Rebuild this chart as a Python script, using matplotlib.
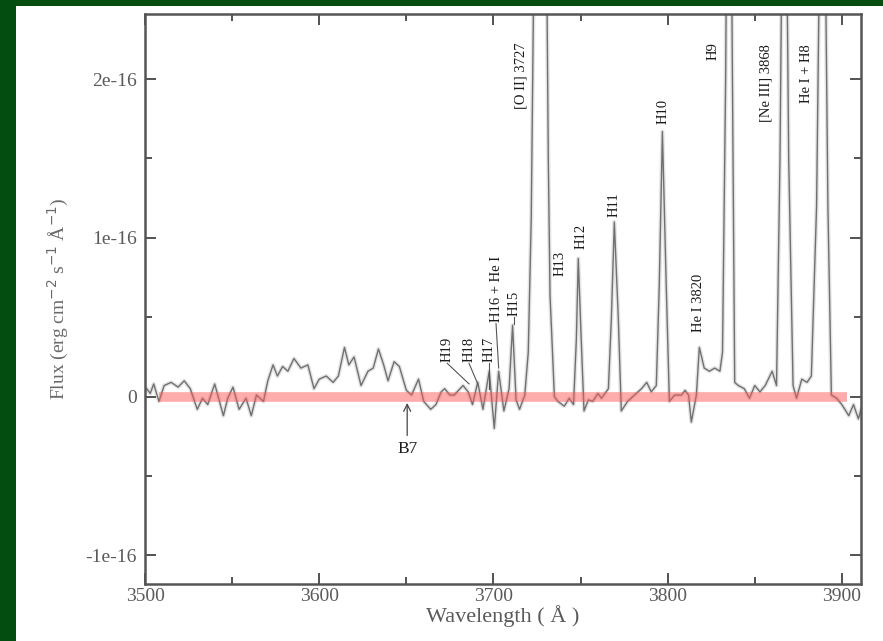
import numpy as np
import matplotlib
matplotlib.use("Agg")
import matplotlib.pyplot as plt
from matplotlib.patches import Rectangle
from matplotlib.ticker import FixedLocator, MultipleLocator

# Spectrum (flux in units of 1e-16 erg/cm2/s/A)
wave = [3501, 3503, 3505, 3508, 3511, 3515, 3519, 3522.5, 3526, 3530, 3533, 3536,
        3540, 3545, 3547.5, 3550.5, 3554, 3558, 3561, 3564, 3568, 3570.5, 3573.5,
        3576, 3579, 3582, 3585.5, 3589.5, 3593.5, 3597, 3600, 3604, 3608, 3611,
        3614.5, 3617, 3620, 3624, 3628, 3631, 3634, 3637, 3639.5, 3643, 3646, 3650,
        3653, 3657, 3660, 3664, 3667, 3670, 3672, 3675, 3677.5, 3680, 3682.6, 3685.5,
        3688, 3691, 3694, 3697.6, 3700.5, 3703, 3706, 3709, 3711, 3713, 3715, 3718,
        3720, 3721.7, 3723.5, 3727, 3730, 3731.5, 3732.5, 3735, 3737, 3740.7, 3743.5,
        3746, 3747.6, 3748.7, 3750.4, 3752, 3754.5, 3757, 3760, 3762, 3766, 3767.7,
        3769.4, 3771.7, 3773.4, 3777, 3781, 3785, 3788, 3790.6, 3793.5, 3795.2, 3797,
        3799.2, 3801, 3804, 3808, 3810, 3812, 3813.6, 3816.5, 3818.2, 3821, 3824,
        3827, 3830, 3831.5, 3833.3, 3835.2, 3837.2, 3838.5, 3840.6, 3844, 3847, 3850,
        3853, 3856, 3860, 3862.5, 3864.5, 3867, 3869.5, 3872, 3874, 3877, 3880,
        3882.5, 3885.5, 3889, 3892, 3894, 3897, 3900, 3904, 3906.7, 3909.5, 3911]
flux = [0.05, 0.02, 0.08, -0.03, 0.07, 0.09, 0.06, 0.10, 0.05, -0.08, -0.01, -0.05,
        0.08, -0.12, -0.01, 0.06, -0.08, -0.01, -0.12, 0.01, -0.03, 0.10, 0.20,
        0.13, 0.19, 0.16, 0.24, 0.18, 0.20, 0.05, 0.11, 0.13, 0.09, 0.13,
        0.31, 0.20, 0.25, 0.07, 0.16, 0.18, 0.30, 0.20, 0.10, 0.22, 0.19, 0.04,
        0.01, 0.11, -0.03, -0.08, -0.05, 0.03, 0.05, 0.01, 0.01, 0.04, 0.07, 0.03,
        -0.05, 0.09, -0.08, 0.16, -0.20, 0.16, -0.09, 0.05, 0.45, -0.02, -0.08, 0.01,
        0.28, 1.12, 3.0, 4.5, 3.5, 1.5, 0.64, 0.0, -0.03, -0.06, -0.01,
        -0.05, 0.36, 0.87, 0.36, -0.09, -0.02, -0.03, 0.02, -0.01, 0.05, 0.49,
        1.10, 0.49, -0.09, -0.03, 0.01, 0.05, 0.09, 0.03, 0.07, 0.70, 1.67,
        0.70, -0.03, 0.01, 0.01, 0.04, 0.01, -0.16, 0.01, 0.31, 0.18, 0.16,
        0.18, 0.16, 0.28, 2.0, 5.0, 2.0, 0.09, 0.07, 0.05, -0.01, 0.07,
        0.03, 0.07, 0.16, 0.07, 1.5, 4.5, 1.5, 0.07, -0.01, 0.11, 0.09,
        0.13, 1.2, 4.5, 1.2, 0.01, -0.01, -0.05, -0.12, -0.05, -0.14, -0.08]

# Line identifications
line_names = ['H19', 'H18', 'H17', 'H16 + He I', 'H15', '[O II] 3727', 'H13', 'H12',
              'H11', 'H10', 'He I 3820', 'H9', '[Ne III] 3868', 'He I + H8']
label_x = [3673.5, 3686, 3697.5, 3701.5, 3712, 3716, 3738, 3750.4, 3769.4, 3797.5,
           3818, 3826, 3856.7, 3879.7]
label_y = [0.22, 0.22, 0.22, 0.47, 0.51, 1.81, 0.76, 0.93, 1.13, 1.72, 0.41, 2.12,
           1.73, 1.85]
# leader line ends (None = no leader)
leader_x = [3686, 3691, 3697.5, 3703, 3712, None, None, None, None, None, None, None, None, None]
leader_y = [0.08, 0.08, 0.05, 0.18, 0.46, None, None, None, None, None, None, None, None, None]

yticks = [-1, 0, 1, 2]
ytick_labels = ['-1e-16', '0', '1e-16', '2e-16']
xticks = [3500, 3600, 3700, 3800, 3900]

plt.rcParams['font.family'] = ['Liberation Serif', 'DejaVu Serif']

fig = plt.figure(figsize=(8.83, 6.41), dpi=100, facecolor='#024d0f')
# white panel sitting on the green background
fig.patches.append(Rectangle((16 / 883, 0), 1, 635 / 641, transform=fig.transFigure,
                             facecolor='white', edgecolor='none', zorder=-5))
ax = fig.add_axes([145 / 883, 57 / 641, 716 / 883, 570 / 641])
ax.set_zorder(2)

scale = 1e-16
flux_cgs = np.array(flux) * scale
# soft halo under the trace, the scan is blurry
ax.plot(wave, flux_cgs, color='#e4e4e4', lw=3.0, zorder=1)
ax.plot(wave, flux_cgs, color='#707070', lw=1.0, zorder=2)
# zero level
ax.plot([3508, 3903], [0, 0], color='#ff5a5a', alpha=0.5, lw=7, solid_capstyle='butt', zorder=3)

# labels for the emission lines
for i, name in enumerate(line_names):
    ax.text(label_x[i], label_y[i] * scale, name, rotation=90, ha='center', va='bottom',
            fontsize=10.5, color='#1a1a1a')
    if leader_x[i] is not None:
        ax.plot([label_x[i], leader_x[i]], [label_y[i] * scale - 0.01 * scale, leader_y[i] * scale],
                color='#555555', lw=0.8)

# B7 marker
ax.annotate('B7', xy=(3650.5, -0.04 * scale), xytext=(3650.5, -0.33 * scale),
            ha='center', va='center', fontsize=12.5, color='#1a1a1a',
            arrowprops=dict(arrowstyle='->', color='#444444', lw=0.9, shrinkB=0))

ax.set_xlim(3500, 3911)
ax.set_ylim(-1.18 * scale, 2.41 * scale)
ax.xaxis.set_major_locator(FixedLocator(xticks))
ax.xaxis.set_minor_locator(MultipleLocator(50))
ax.yaxis.set_major_locator(FixedLocator([v * scale for v in yticks]))
ax.yaxis.set_minor_locator(MultipleLocator(0.5 * scale))
ax.set_yticklabels(ytick_labels)
ax.tick_params(which='both', direction='in', top=True, right=True, color='#444444',
               labelcolor='#5a5a5a', labelsize=14, width=1.3)
ax.tick_params(which='major', length=8)
ax.tick_params(which='minor', length=5)
ax.tick_params(axis='x', pad=3)
ax.tick_params(axis='y', pad=6)
for s in ax.spines.values():
    s.set_linewidth(1.8)
    s.set_color('#555555')

ax.set_xlabel('Wavelength ( Å )', fontsize=16, color='#5a5a5a', labelpad=0)
ax.set_ylabel('Flux (erg cm$^{-2}$ s$^{-1}$ Å$^{-1}$)', fontsize=14, color='#6a6a6a', labelpad=10)

plt.savefig('out.png', dpi=100, facecolor=fig.get_facecolor())
plt.close()
